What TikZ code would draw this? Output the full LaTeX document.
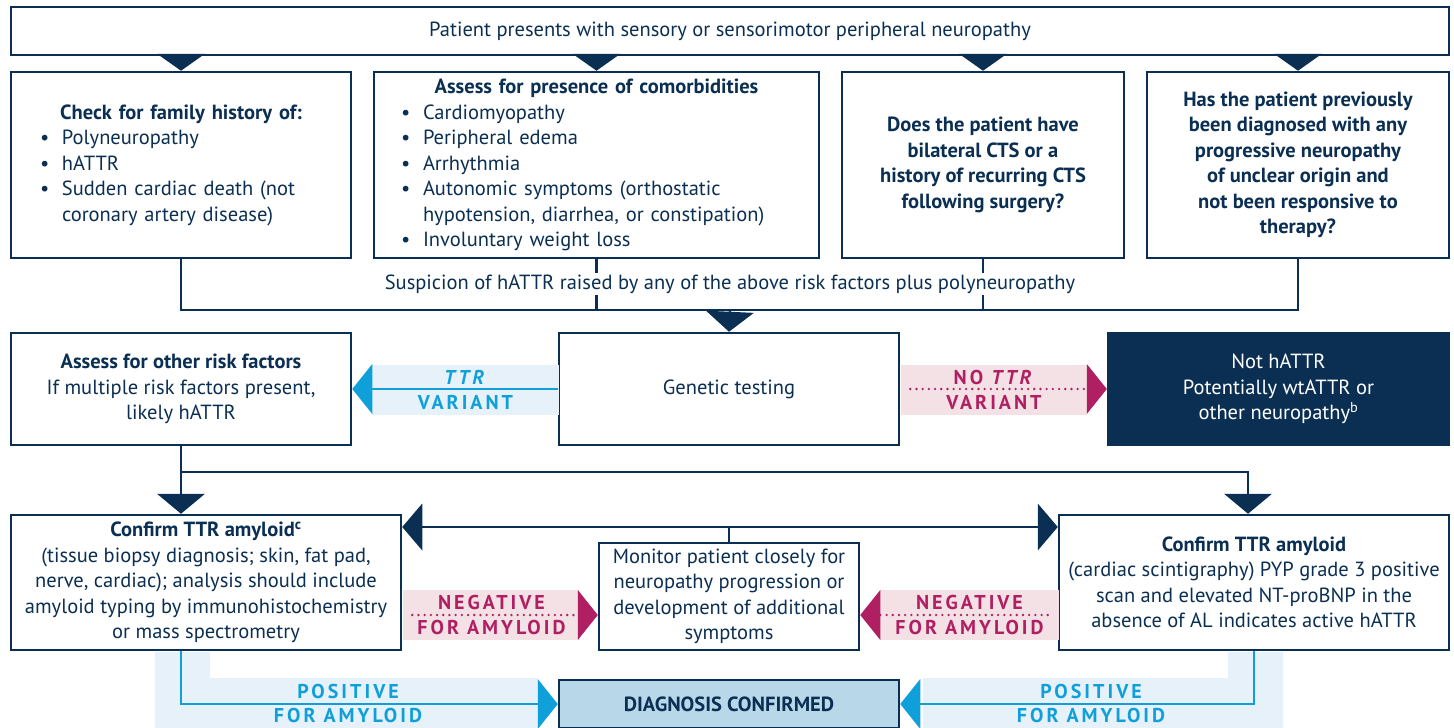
\documentclass[tikz,border=0pt]{standalone}
\usepackage{fontspec}
\setmainfont{PT Sans}
\usetikzlibrary{arrows.meta,positioning,calc}
\definecolor{navy}{HTML}{0B2F52}
\definecolor{lblue}{HTML}{E6F1FA}
\definecolor{bblue}{HTML}{0FA0DA}
\definecolor{lpink}{HTML}{F3E1E6}
\definecolor{mag}{HTML}{AF1F62}
\definecolor{dfill}{HTML}{B8D8EA}
\newcommand\txt{\fontsize{20.5}{25.5}\selectfont}
\newcommand\lbl{\fontsize{20}{24.5}\selectfont\bfseries\addfontfeatures{LetterSpace=15}}
\newcommand\itm{\makebox[22pt][l]{\textbullet}}
\tikzset{
  box/.style={draw=navy, line width=2.5pt, fill=white, inner sep=0pt, align=center, font=\txt},
  bold/.style={font=\txt\bfseries},
  conn/.style={draw=navy, line width=2.5pt},
  head/.style={-{Triangle[length=#1,width=48pt,line width=0pt]}},
  head/.default=20pt,
  band/.style={inner sep=0pt, minimum height=50pt, align=center, font=\lbl},
  bluearr/.style={draw=bblue, line width=2pt, -{Triangle[length=20pt,width=50pt,line width=0pt]}},
  dotarr/.style={draw=mag, line width=2.6pt, line cap=round, dash pattern=on 0pt off 6.2pt,
    shorten <=10pt, -{Triangle[length=20pt,width=50pt,line width=0pt]}}
}
\begin{document}
\begin{tikzpicture}[x=1pt, y=-1pt, font=\txt, text=navy]
\useasboundingbox (0,0) rectangle (1454,728);
% first row
\node[box, minimum width=1438, minimum height=48] (pat) at (730,31)
  {Patient presents with sensory or sensorimotor peripheral neuropathy};
\node[box, minimum width=340, minimum height=186, text width=282pt, align=left] (fam) at (181,165)
  {\makebox[282pt]{\bfseries Check for family history of:}\\
   \itm Polyneuropathy\\ \itm hATTR\\ \itm Sudden cardiac death (not\\
   \hspace*{22pt}coronary artery disease)};
\node[box, minimum width=445, minimum height=186, text width=391pt, align=left] (com) at (596.5,165)
  {\makebox[391pt]{\bfseries Assess for presence of comorbidities}\\
   \itm Cardiomyopathy\\ \itm Peripheral edema\\ \itm Arrhythmia\\
   \itm Autonomic symptoms (orthostatic\\
   \hspace*{22pt}hypotension, diarrhea, or constipation)\\
   \itm Involuntary weight loss};
\node[box, bold, minimum width=282, minimum height=186] (cts) at (983,165)
  {Does the patient have\\bilateral CTS or a\\history of recurring CTS\\following surgery?};
\node[box, bold, minimum width=302, minimum height=186] (prev) at (1298,165)
  {Has the patient previously\\been diagnosed with any\\progressive neuropathy\\of unclear origin and\\not been responsive to\\therapy?};
\foreach \n in {fam,com,cts,prev}
  \draw[conn, head=17pt] (pat.south -| \n.north) -- (\n.north);
% suspicion
\coordinate (j) at (730,310);
\draw[conn] (fam.south) |- (j) -| (prev.south);
\draw[conn] (com.south) -- (com.south |- j);
\draw[conn] (cts.south) -- (cts.south |- j);
\node[fill=white, inner sep=2pt] (susp) at (730,284)
  {Suspicion of hATTR raised by any of the above risk factors plus polyneuropathy};
% genetic testing
\node[box, minimum width=340, minimum height=112] (gen) at (729,389) {Genetic testing};
\node[box, minimum width=340, minimum height=112] (risk) at (181,389)
  {\textbf{Assess for other risk factors}\\If multiple risk factors present,\\likely hATTR};
\node[box, fill=navy, text=white, minimum width=341, minimum height=112] (not) at (1278.5,389)
  {Not hATTR\\Potentially wtATTR or\\other neuropathy\textsuperscript{b}};
\draw[conn, head] (j) -- (gen.north);
\node[band, fill=lblue, text=bblue, minimum width=187] (ttr) at (465.5,390) {\textit{TTR}\\VARIANT};
\draw[bluearr] (gen.west) -- (risk.east);
\node[band, fill=lpink, text=mag, minimum width=186] (nottr) at (994,390) {NO \textit{TTR}\\VARIANT};
\draw[dotarr] (gen.east) -- (not.west);
% confirmation
\node[box, minimum width=390, minimum height=135] (conf1) at (206,582.5)
  {\textbf{Confirm TTR amyloid\textsuperscript{c}}\\(tissue biopsy diagnosis; skin, fat pad,\\nerve, cardiac); analysis should include\\amyloid typing by immunohistochemistry\\or mass spectrometry};
\node[box, minimum width=390, minimum height=135] (conf2) at (1254,582.5)
  {\textbf{Confirm TTR amyloid}\\(cardiac scintigraphy) PYP grade 3 positive\\scan and elevated NT-proBNP in the\\absence of AL indicates active hATTR};
\node[box, minimum width=260, minimum height=107] (mon) at (729,596.5)
  {Monitor patient closely for\\neuropathy progression or\\development of additional\\symptoms};
\coordinate (k) at (181,472);
\draw[conn, head] (risk.south) -- (risk.south |- conf1.north);
\draw[conn, head] (k) -| ([xshift=-6pt]conf2.north);
\coordinate (m) at (729,527);
\draw[conn] (mon.north) -- (m);
\draw[conn, {Triangle[length=20pt,width=47pt,line width=0pt]}-{Triangle[length=20pt,width=47pt,line width=0pt]}]
  (conf1.east |- m) -- (conf2.west |- m);
\node[band, fill=lpink, text=mag, minimum width=177] (negl) at (491.5,615) {NEGATIVE\\FOR AMYLOID};
\draw[dotarr] (conf1.east |- negl) -- (mon.west |- negl);
\node[band, fill=lpink, text=mag, minimum width=179] (negr) at (969.5,615) {NEGATIVE\\FOR AMYLOID};
\draw[dotarr] (conf2.west |- negr) -- (mon.east |- negr);
% diagnosis
\fill[lblue] (155,652) -- (210,652) -- (210,678) -- (538,678) -- (538,728) -- (155,728) -- cycle;
\fill[lblue] (1228,652) -- (1283,652) -- (1283,728) -- (923,728) -- (923,678) -- (1228,678) -- cycle;
\node[box, bold, fill=dfill, minimum width=340, minimum height=48] (diag) at (729,704) {DIAGNOSIS CONFIRMED};
\draw[bluearr] (conf1.south -| risk.south) |- (diag.west);
\draw[bluearr] (conf2.south) |- (diag.east);
\node[band, text=bblue] (posl) at (348,703.5) {POSITIVE\\FOR AMYLOID};
\node[band, text=bblue] (posr) at (1091,703.5) {POSITIVE\\FOR AMYLOID};
\end{tikzpicture}
\end{document}
